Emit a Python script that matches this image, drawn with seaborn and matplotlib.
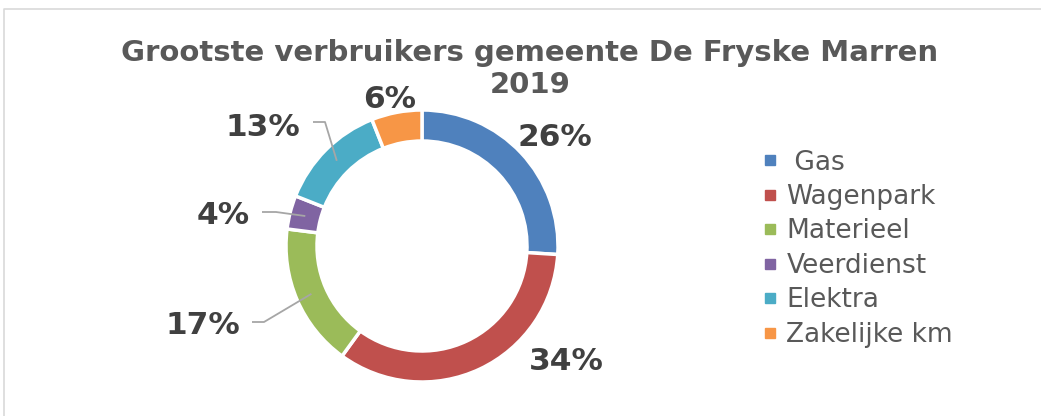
import numpy as np
import seaborn as sns
import matplotlib
matplotlib.use("Agg")
import matplotlib.pyplot as plt
from matplotlib.lines import Line2D

sns.set_theme(style="white")
plt.rcParams['font.family'] = ['DejaVu Sans']

# data
categories = [" Gas", "Wagenpark", "Materieel", "Veerdienst", "Elektra", "Zakelijke km"]
shares = [26, 34, 17, 4, 13, 6]
colors = ["#4F81BD", "#C0504D", "#9BBB59", "#8064A2", "#4BACC6", "#F79646"]

W, H = 1041, 416
fig = plt.figure(figsize=(W / 100, H / 100), dpi=100)
ax = fig.add_axes([0, 0, 1, 1])

# donut, in pixel units (y up)
cx, cy = 422, H - 246
r_out, r_in = 136, 105
wedges, _ = ax.pie(shares, colors=colors, startangle=90, counterclock=False,
                   radius=r_out, center=(cx, cy),
                   wedgeprops=dict(width=r_out - r_in, edgecolor="white", linewidth=2.5))
ax.set_xlim(0, W)
ax.set_ylim(0, H)
ax.set_aspect("auto")
ax.axis("off")

# label positions (image px) and leader elbows for the small slices
label_pos = [(555, 137), (566, 362), (203, 325), (223, 216), (263, 127), (390, 100)]
leaders = {2: (252, 264, 322), 3: (262, 276, 212), 4: (313, 325, 122)}

total = sum(shares)
cum = np.cumsum([0] + shares)
for i, v in enumerate(shares):
    lx, ly = label_pos[i]
    ax.text(lx, H - ly, f"{round(100 * v / total)}%", ha="center", va="center",
            fontsize=22.5, fontweight="bold", color="#404040")
    if i in leaders:
        x0, x1, yy = leaders[i]
        mid = np.deg2rad(90 - (cum[i] + v / 2) / total * 360)
        r_mid = (r_out + r_in) / 2
        px, py = cx + r_mid * np.cos(mid), cy + r_mid * np.sin(mid)
        ax.plot([x0, x1, px], [H - yy, H - yy, py], color="#A6A6A6", lw=1.3,
                solid_capstyle="butt")

# title
fig.text(530 / W, 1 - 53 / H, "Grootste verbruikers gemeente De Fryske Marren",
         ha="center", va="center", fontsize=21, fontweight="bold", color="#595959")
fig.text(530 / W, 1 - 85 / H, "2019", ha="center", va="center",
         fontsize=21, fontweight="bold", color="#595959")

# legend
handles = [Line2D([], [], marker="s", linestyle="", markersize=7.5,
                  markerfacecolor=c, markeredgecolor=c) for c in colors]
leg = ax.legend(handles, categories, loc="upper left",
                bbox_to_anchor=(752 / W, 1 - 139 / H), frameon=False,
                fontsize=19, labelcolor="#595959", handlelength=0.6,
                handletextpad=0.3, labelspacing=0.32, borderaxespad=0)

# chart frame
ax.plot([4, 4, W + 5], [-5, H - 9, H - 9], color="#D9D9D9", lw=1.2, clip_on=False)

fig.savefig("out.png", dpi=100, facecolor="white")
